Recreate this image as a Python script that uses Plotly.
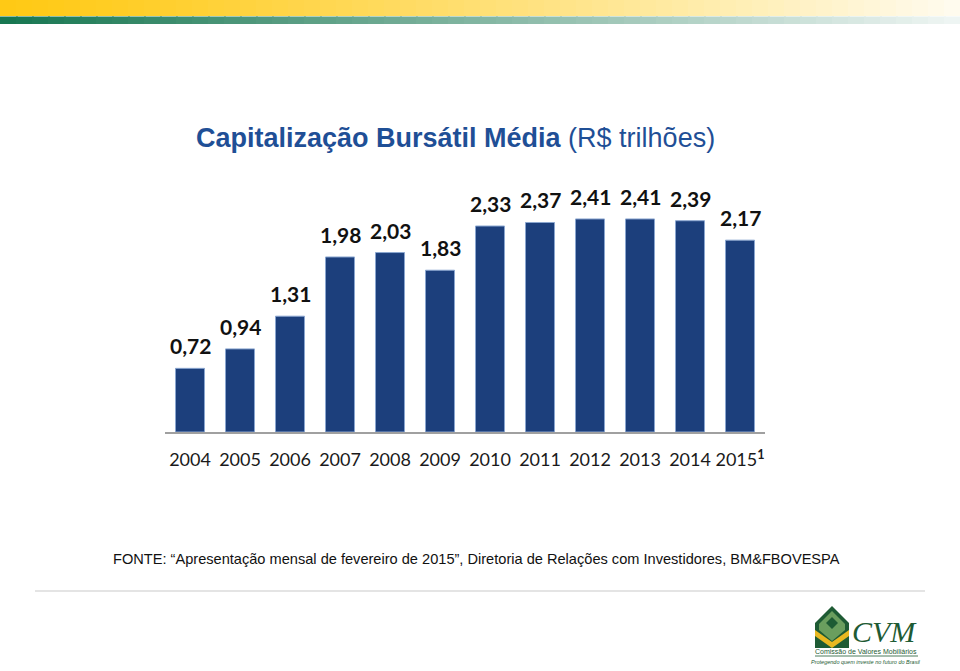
import plotly.graph_objects as go

W, H = 960, 671

years = ["2004", "2005", "2006", "2007", "2008", "2009", "2010", "2011", "2012", "2013", "2014", "2015"]
tick_labels = ["2004", "2005", "2006", "2007", "2008", "2009", "2010", "2011", "2012", "2013", "2014", "2015<sup><b>1</b></sup>"]
values = [0.72, 0.94, 1.31, 1.98, 2.03, 1.83, 2.33, 2.37, 2.41, 2.41, 2.39, 2.17]
value_labels = [f"{v:.2f}".replace(".", ",") for v in values]

def px(x):
    return x / W

def py(y):
    return 1 - y / H

fig = go.Figure()
fig.add_trace(go.Bar(
    x=years, y=values,
    marker=dict(color="#1c3f7c", line=dict(color="#8aa6d0", width=1)),
    width=0.58, cliponaxis=False, hoverinfo="skip",
))

shapes = []
def lerp(c1, c2, t):
    return "rgb(%d,%d,%d)" % tuple(round(a + (b - a) * t) for a, b in zip(c1, c2))

N = 60
for i in range(N):
    t0 = i / N
    t1 = (i + 1) / N
    t = (i + 0.5) / N
    shapes.append(dict(type="rect", xref="paper", yref="paper", x0=t0, x1=t1 + 0.002,
                       y0=py(16), y1=py(0), line_width=0,
                       fillcolor=lerp((255, 201, 20), (255, 252, 240), t ** 1.2)))
    shapes.append(dict(type="rect", xref="paper", yref="paper", x0=t0, x1=t1 + 0.002,
                       y0=py(24), y1=py(16.5), line_width=0,
                       fillcolor=lerp((22, 118, 80), (240, 246, 244), t ** 1.0)))

# separator line
shapes.append(dict(type="line", xref="paper", yref="paper", x0=px(35), x1=px(925),
                   y0=py(591), y1=py(591), line=dict(color="#c9c9c9", width=1)))

# CVM logo emblem
def path(points):
    return "M " + " L ".join(f"{px(x):.5f},{py(y):.5f}" for x, y in points) + " Z"

DG = "#1e5b34"
shapes.append(dict(type="path", xref="paper", yref="paper",
                   path=path([(832, 606), (849, 623), (849, 648), (815, 648), (815, 623)]),
                   fillcolor=DG, line_width=0))
shapes.append(dict(type="path", xref="paper", yref="paper",
                   path=path([(832, 611), (845, 624), (845, 630), (832, 641), (819, 630), (819, 624)]),
                   fillcolor="#6a9e5e", line_width=0))
shapes.append(dict(type="path", xref="paper", yref="paper",
                   path=path([(832, 617), (838, 623), (832, 629), (826, 623)]),
                   fillcolor=DG, line_width=0))
shapes.append(dict(type="path", xref="paper", yref="paper",
                   path=path([(815, 630), (832, 642), (849, 630), (849, 636), (832, 648), (815, 636)]),
                   fillcolor="#e8b820", line_width=0))
shapes.append(dict(type="line", xref="paper", yref="paper", x0=px(815), x1=px(918),
                   y0=py(656), y1=py(656), line=dict(color=DG, width=0.8)))

annotations = [
    dict(text="<b>Capitalização Bursátil Média</b> (R$ trilhões)", x=px(455), y=py(138),
         xref="paper", yref="paper", showarrow=False, xanchor="center", yanchor="middle",
         font=dict(family="Arial, Liberation Sans, sans-serif", size=27, color="#1f4f96")),
    dict(text="FONTE: “Apresentação mensal de fevereiro de 2015”, Diretoria de Relações com Investidores, BM&FBOVESPA",
         x=px(476), y=py(559), xref="paper", yref="paper", showarrow=False, xanchor="center", yanchor="middle",
         font=dict(family="Arial, Liberation Sans, sans-serif", size=14.6, color="#111111")),
    dict(text="<i>CVM</i>", x=px(884), y=py(631), xref="paper", yref="paper", showarrow=False,
         xanchor="center", yanchor="middle",
         font=dict(family="Liberation Serif, DejaVu Serif, serif", size=30, color=DG)),
    dict(text="Comissão de Valores Mobiliários", x=px(866), y=py(651.5), xref="paper", yref="paper", showarrow=False,
         xanchor="center", yanchor="middle",
         font=dict(family="Arial, Liberation Sans, sans-serif", size=7, color=DG)),
    dict(text="<i>Protegendo quem investe no futuro do Brasil</i>", x=px(866), y=py(662), xref="paper", yref="paper",
         showarrow=False, xanchor="center", yanchor="middle",
         font=dict(family="Arial, Liberation Sans, sans-serif", size=5.5, color=DG)),
]

# value labels, placed through the data axes (category index positions)
for i, (v, lab) in enumerate(zip(values, value_labels)):
    annotations.append(dict(text=lab, x=i, y=v, xref="x", yref="y", showarrow=False,
                            xanchor="center", yanchor="bottom", yshift=8,
                            font=dict(family="Lato, Carlito, Calibri, sans-serif", size=21,
                                      color="#111111", weight="bold")))

fig.update_layout(
    width=W, height=H,
    margin=dict(l=0, r=0, t=0, b=0, autoexpand=False),
    paper_bgcolor="white", plot_bgcolor="white",
    showlegend=False,
    shapes=shapes, annotations=annotations,
    xaxis=dict(domain=[px(165), px(765)], type="category", range=[-0.5, len(years) - 0.5],
               tickmode="array", tickvals=years, ticktext=tick_labels,
               showline=True, linecolor="#a0a0a0", linewidth=1.5, showgrid=False, ticks="",
               ticklabelstandoff=11,
               tickfont=dict(family="Lato, Carlito, Calibri, sans-serif", size=18, color="#1a1a1a")),
    yaxis=dict(domain=[py(432), py(180)], range=[0, 252 / 88.4], visible=False, showgrid=False),
)

fig.write_html("out.html", config={"displayModeBar": False},
               post_script="document.body.style.margin='0';document.body.style.padding='0';")
